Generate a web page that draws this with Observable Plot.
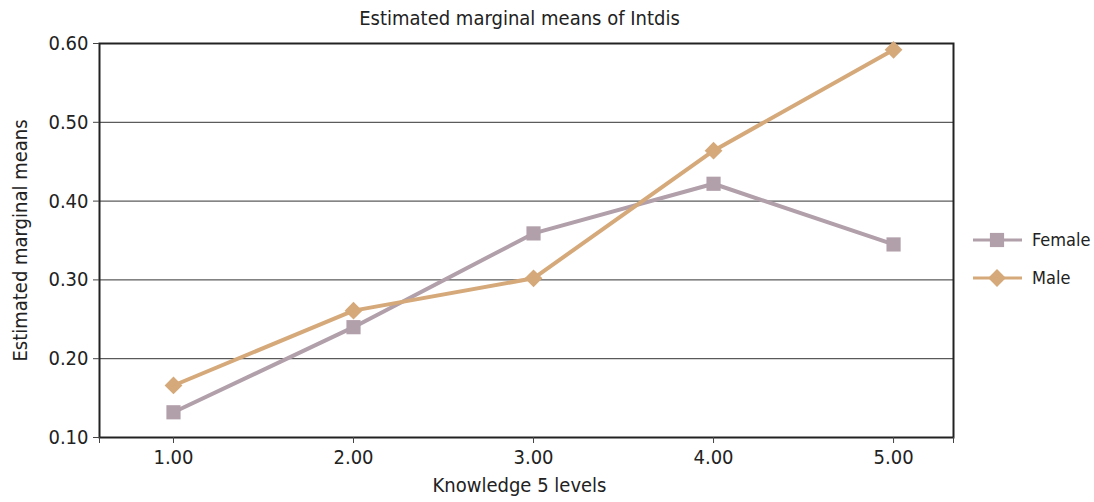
<!DOCTYPE html>
<html><head><meta charset="utf-8">
<script src="https://cdn.jsdelivr.net/npm/d3@7"></script>
<script src="https://cdn.jsdelivr.net/npm/@observablehq/plot@0.6"></script>
<style>
body{margin:0;background:#fff;}
#chart{position:relative;width:1094px;height:502px;}
#chart svg text{font-stretch:condensed;}
</style></head><body><div id="chart"></div>
<script>
const levels = [1, 2, 3, 4, 5];
const female = [0.132, 0.240, 0.359, 0.422, 0.345];
const male = [0.166, 0.261, 0.302, 0.464, 0.592];
const yTicks = [0.10, 0.20, 0.30, 0.40, 0.50, 0.60];
const seriesNames = ["Female", "Male"];
const colors = {Female: "#b19faa", Male: "#d5a97a"};
const symbols = {Female: "square", Male: "diamond2"};

const data = [];
levels.forEach((k, i) => {
  data.push({level: k, value: female[i], series: "Female"});
  data.push({level: k, value: male[i], series: "Male"});
});

const font = "'DejaVu Sans Condensed','DejaVu Sans',sans-serif";
const W = 1094, H = 502;
const ml = 99, mr = 141, mt = 43, mb = 65;
const fs = 20;
const xDomain = [0.589, 5.333];

const plot = Plot.plot({
  width: W, height: H,
  marginLeft: ml, marginRight: mr, marginTop: mt, marginBottom: mb,
  style: {fontFamily: font, fontSize: fs + "px", color: "#222", background: "#fff"},
  x: {domain: xDomain, label: null},
  y: {domain: [0.10, 0.60], label: null},
  marks: [
    Plot.ruleY(yTicks.slice(1, -1), {stroke: "#333", strokeWidth: 1}),
    Plot.frame({stroke: "#222", strokeWidth: 2}),
    Plot.axisX({ticks: [xDomain[0], ...levels, xDomain[1]], tickFormat: d => levels.includes(d) ? d.toFixed(2) : "", label: null, tickSize: 6, tickPadding: 6, fontSize: fs, fill: "#222", stroke: "#444"}),
    Plot.axisY({ticks: yTicks, tickFormat: d => d.toFixed(2), label: null, tickSize: 6, tickPadding: 5, fontSize: fs, fill: "#222", stroke: "#444"}),
    Plot.line(data, {x: "level", y: "value", z: "series", stroke: d => colors[d.series], strokeWidth: 4}),
    Plot.dot(data, {x: "level", y: "value", fill: d => colors[d.series], symbol: d => symbols[d.series], r: 8, stroke: "none"}),
    Plot.text(["Estimated marginal means of Intdis"], {frameAnchor: "top", lineAnchor: "middle", dy: -25, dx: -7, fontSize: fs, fill: "#222"}),
    Plot.text(["Knowledge 5 levels"], {frameAnchor: "bottom", lineAnchor: "middle", dy: 48, dx: -7, fontSize: fs, fill: "#222"}),
    Plot.text(["Estimated marginal means"], {frameAnchor: "left", textAnchor: "middle", dx: -79, rotate: -90, fontSize: fs, fill: "#222"})
  ]
});
document.getElementById("chart").appendChild(plot);

// legend inside SVG
const svg = d3.select(plot);
const lg = svg.append("g");
const legY = [240, 278];
seriesNames.forEach((s, i) => {
  const y = legY[i];
  lg.append("line").attr("x1", 973).attr("x2", 1022).attr("y1", y).attr("y2", y)
    .attr("stroke", colors[s]).attr("stroke-width", 3);
  const sym = s === "Female" ? d3.symbolSquare : d3.symbolDiamond2;
  lg.append("path").attr("d", d3.symbol(sym, 8 * 8 * Math.PI)()).attr("transform", `translate(997,${y})`)
    .attr("fill", colors[s]);
  lg.append("text").attr("x", 1032).attr("y", y).attr("dy", "0.35em")
    .attr("text-anchor", "start")
    .attr("font-family", font).attr("font-size", 18).attr("fill", "#222").text(s);
});
</script></body></html>
